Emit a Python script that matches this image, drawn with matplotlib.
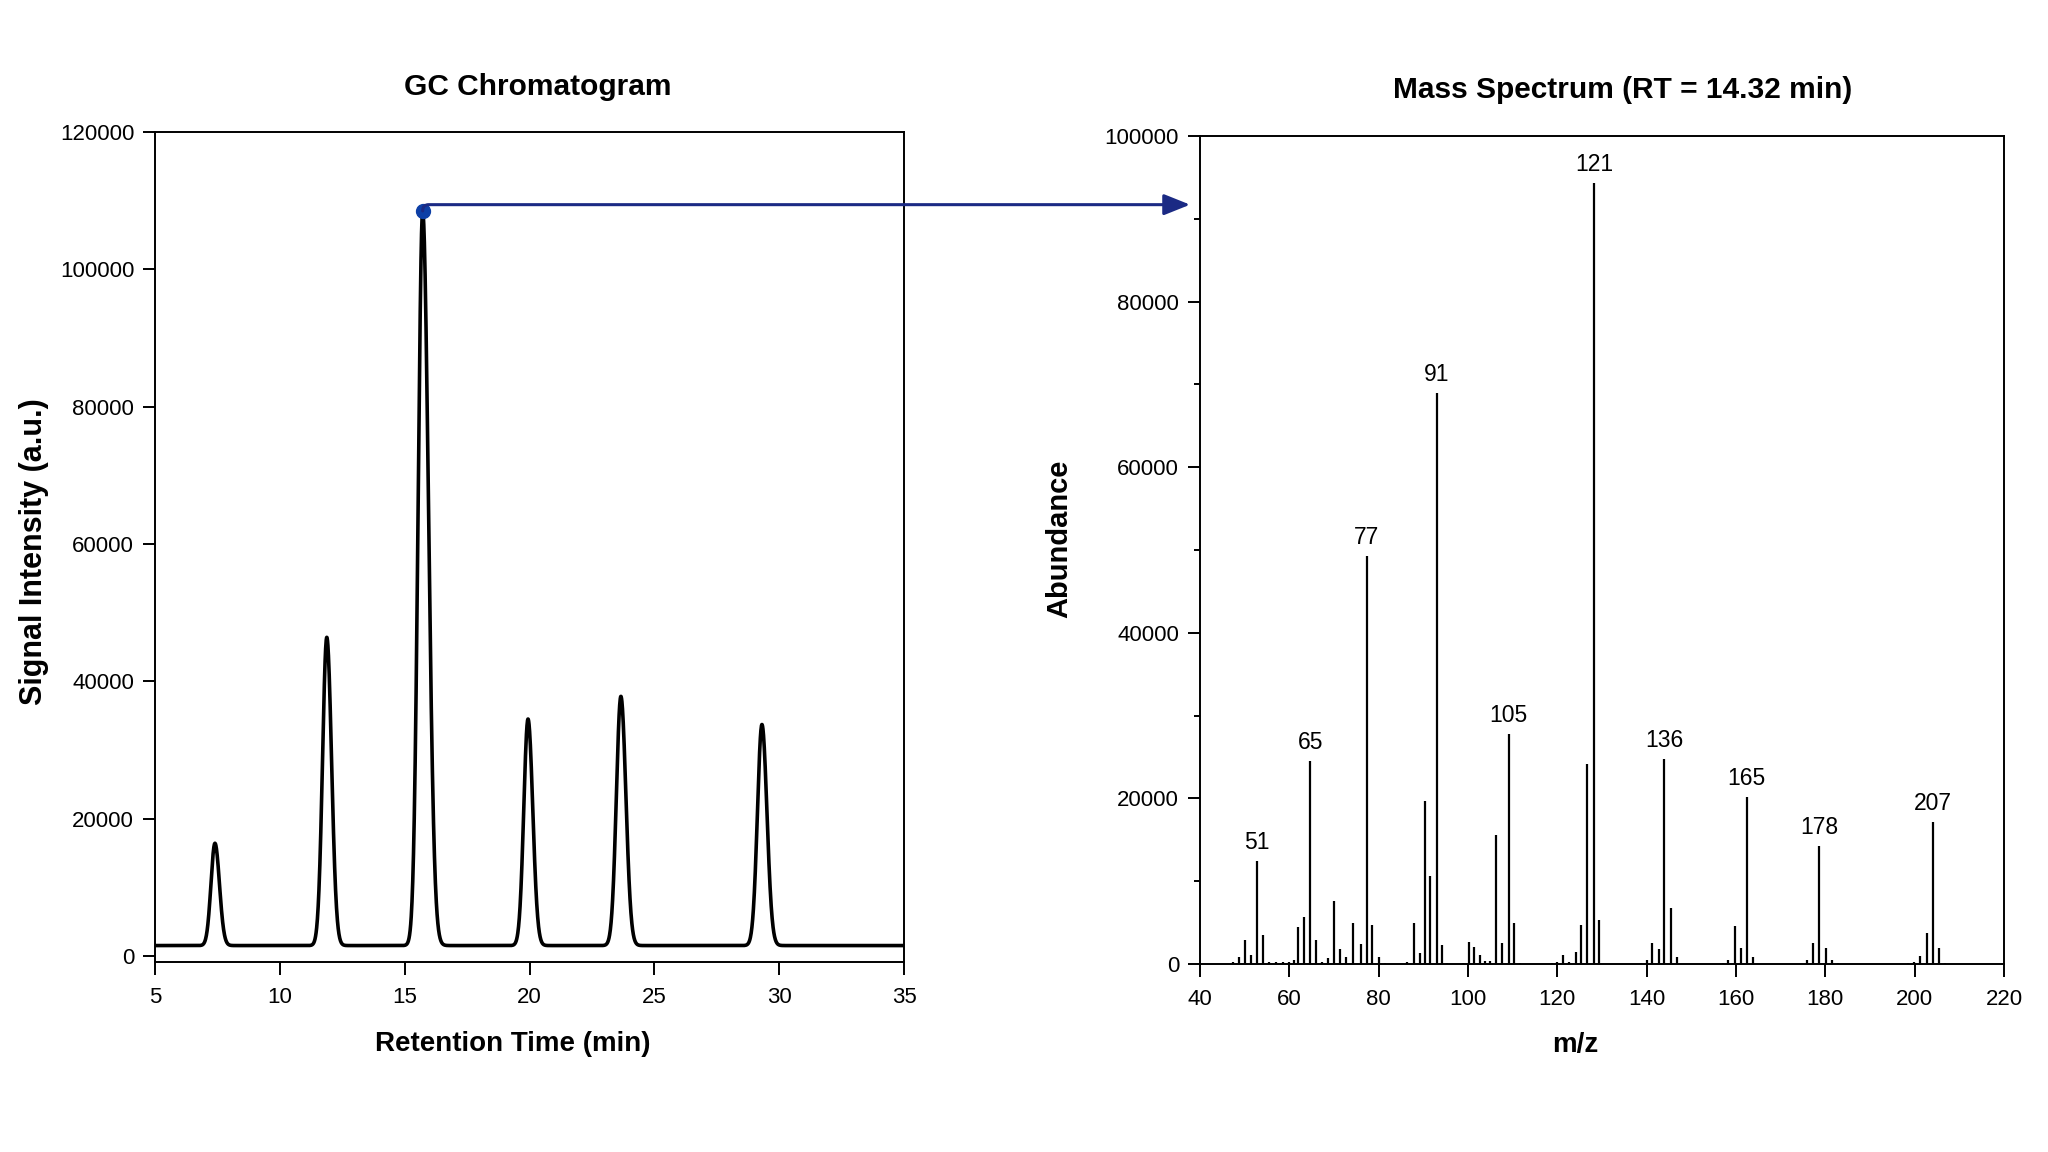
import numpy as np
import matplotlib
matplotlib.use('Agg')
import matplotlib.pyplot as plt
from matplotlib.patches import ConnectionPatch
from matplotlib.ticker import MultipleLocator

plt.rcParams['font.family'] = ['Liberation Sans', 'DejaVu Sans']

#### GC chromatogram peaks ##################################################
peak_rt = [7.40, 11.88, 15.72, 19.94, 23.66, 29.31]
peak_apex = [16400, 46400, 108500, 34500, 37800, 33700]
peak_sig_left = [0.16, 0.17, 0.18, 0.17, 0.18, 0.18]
peak_sig_right = [0.18, 0.19, 0.23, 0.19, 0.20, 0.20]
gc_baseline = 1500
selected_peak = 2   # peak whose mass spectrum is shown

#### Mass spectrum sticks ###################################################
mz = [47.3, 48.7, 50.0, 51.4, 52.8, 54.05, 55.4, 57.0, 58.5, 59.9,
      61.1, 62.0, 63.3, 64.7, 66.0, 67.4, 68.6, 70.0, 71.3, 72.7,
      74.2, 76.0, 77.4, 78.6, 80.1, 81.5, 86.3, 87.9, 89.2, 90.4,
      91.6, 93.0, 94.2, 95.3, 99.0, 100.2, 101.4, 102.6, 103.8, 104.9,
      106.2, 107.6, 109.1, 110.3, 111.7, 118.8, 120.0, 121.3, 122.7, 124.1,
      125.4, 126.7, 128.2, 129.4, 138.7, 140.0, 141.3, 142.7, 144.0, 145.4,
      146.7, 157.0, 158.3, 159.7, 161.1, 162.4, 163.8, 175.9, 177.3, 178.7,
      180.1, 181.4, 182.8, 198.5, 199.8, 201.3, 202.7, 204.1, 205.4, 206.8]
abundance = [300, 800, 2900, 1100, 12400, 3500, 250, 200, 250, 300,
             500, 4500, 5700, 24500, 2900, 250, 700, 7600, 1800, 800,
             4900, 2400, 49300, 4700, 800, 150, 200, 4900, 1300, 19700,
             10600, 69000, 2300, 150, 150, 2700, 2100, 1100, 400, 400,
             15600, 2500, 27800, 4900, 150, 150, 300, 1100, 300, 1400,
             4700, 24200, 94300, 5300, 150, 500, 2500, 1800, 24800, 6800,
             800, 150, 500, 4600, 1900, 20200, 800, 500, 2500, 14200,
             1900, 500, 150, 150, 300, 1000, 3700, 17200, 1900, 150]
label_mz = [52.8, 64.7, 77.4, 93.0, 109.1, 128.2, 144.0, 162.4, 178.7, 204.1]
label_text = ['51', '65', '77', '91', '105', '121', '136', '165', '178', '207']

arrow_abundance = 91700
arrow_tip_mz = 37.8

############################################################################
rt = np.linspace(5, 35, 4000)
signal = np.full_like(rt, gc_baseline, dtype=float)
for c, h, sl, sr in zip(peak_rt, peak_apex, peak_sig_left, peak_sig_right):
    sig = np.where(rt < c, sl, sr)
    signal += (h - gc_baseline) * np.exp(-0.5 * ((rt - c) / sig) ** 2)

fig = plt.figure(figsize=(20.48, 11.52), dpi=100)
ax1 = fig.add_axes([0.0757, 0.1649, 0.3657, 0.7205])
ax2 = fig.add_axes([0.5859, 0.1632, 0.3926, 0.7188])

for ax in (ax1, ax2):
    for s in ax.spines.values():
        s.set_linewidth(1.4)
    ax.tick_params(axis='both', which='major', direction='out', length=9,
                   width=1.4, labelsize=16, pad=6)
    ax.tick_params(axis='x', which='major', pad=9)
    ax.tick_params(axis='both', which='minor', direction='out', length=4.5,
                   width=1.4)

# left: chromatogram
ax1.plot(rt, signal, color='black', lw=2.6)
ax1.set_xlim(5, 35)
ax1.set_ylim(-900, 120000)
ax1.set_xticks(np.arange(5, 36, 5))
ax1.set_yticks(np.arange(0, 120001, 20000))
ax1.set_title('GC Chromatogram', fontsize=21.5, fontweight='bold', pad=27, x=0.511)
ax1.set_xlabel('Retention Time (min)', fontsize=20, fontweight='bold')
ax1.set_ylabel('Signal Intensity (a.u.)', fontsize=22, fontweight='bold')
ax1.xaxis.set_label_coords(0.477, -0.083)
ax1.yaxis.set_label_coords(-0.141, 0.495)

dot_x = peak_rt[selected_peak]
dot_y = peak_apex[selected_peak]
ax1.plot([dot_x], [dot_y], 'o', color='#0d3fa6', markersize=10, clip_on=False, zorder=5)

# right: mass spectrum
ax2.vlines(mz, 0, abundance, color='black', lw=1.6)
ax2.set_xlim(40, 220)
ax2.set_ylim(0, 100000)
ax2.set_xticks(np.arange(40, 221, 20))
ax2.set_yticks(np.arange(0, 100001, 20000))
ax2.yaxis.set_minor_locator(MultipleLocator(10000))
ax2.set_title('Mass Spectrum (RT = 14.32 min)', fontsize=21.5, fontweight='bold',
              pad=27, x=0.526)
ax2.set_xlabel('m/z', fontsize=20, fontweight='bold')
ax2.set_ylabel('Abundance', fontsize=21, fontweight='bold')
ax2.xaxis.set_label_coords(0.467, -0.082)
ax2.yaxis.set_label_coords(-0.157, 0.513)

for m, t in zip(label_mz, label_text):
    h = abundance[mz.index(m)]
    ax2.annotate(t, (m, h), xytext=(0, 5), textcoords='offset points',
                 ha='center', va='bottom', fontsize=16.5)

# arrow from chromatogram peak to the spectrum
con = ConnectionPatch(xyA=(dot_x, dot_y), coordsA=ax1.transData,
                      xyB=(arrow_tip_mz, arrow_abundance), coordsB=ax2.transData,
                      arrowstyle='-|>,head_length=0.8,head_width=0.32',
                      connectionstyle='angle,angleA=90,angleB=0,rad=6',
                      mutation_scale=20, shrinkA=0, shrinkB=0,
                      color='#1b2a84', lw=2.2, zorder=4)
fig.add_artist(con)

fig.savefig('out.png', dpi=100, facecolor='white')
